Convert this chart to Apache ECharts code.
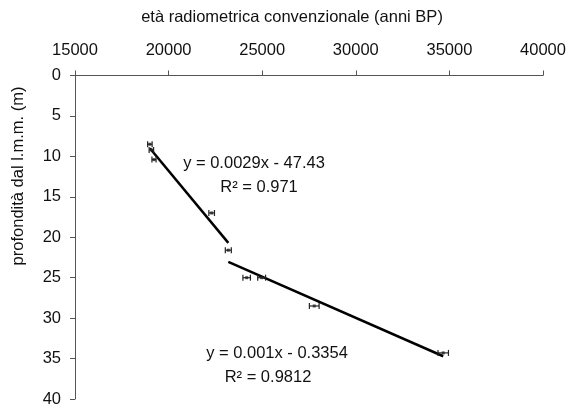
<!DOCTYPE html>
<html>
<head>
<meta charset="utf-8">
<script src="https://cdn.jsdelivr.net/npm/echarts@6/dist/echarts.min.js"></script>
<style>html,body{margin:0;padding:0;background:#fff}#c{width:572px;height:410px}</style>
</head>
<body>
<div id="c"></div>
<script>
// Data
const ages   = [19000, 19080, 19220, 22300, 23190, 24170, 24970, 27780, 34670]; // anni BP
const depths = [8.5,   9.2,   10.4,  17.0,  21.6,  25.0,  25.0,  28.5,  34.3];  // m
const ageErr = [120,   120,   110,   150,   160,   200,   210,   260,   280];
const trendGroups = [[0, 4], [4, 8]]; // index ranges for the two linear fits
const eqLabels = ['y = 0.0029x - 47.43', 'R² = 0.971', 'y = 0.001x - 0.3354', 'R² = 0.9812'];
const xTitle = 'età radiometrica convenzionale (anni BP)';
const yTitle = 'profondità dal l.m.m. (m)';

function fit(a, b) {
  const xs = ages.slice(a, b + 1), ys = depths.slice(a, b + 1);
  const n = xs.length;
  const mx = xs.reduce((s, v) => s + v, 0) / n, my = ys.reduce((s, v) => s + v, 0) / n;
  let sxy = 0, sxx = 0;
  for (let i = 0; i < n; i++) { sxy += (xs[i] - mx) * (ys[i] - my); sxx += (xs[i] - mx) ** 2; }
  const k = sxy / sxx, q = my - k * mx;
  const x0 = Math.min(...xs), x1 = Math.max(...xs);
  return [[x0, k * x0 + q], [x1, k * x1 + q]];
}

const FONT = 'Liberation Sans, Arial, sans-serif';
const chart = echarts.init(document.getElementById('c'));
const pts = ages.map((a, i) => [a, depths[i], ageErr[i]]);

chart.setOption({
  animation: false,
  grid: { left: 75, top: 75.5, right: 29, bottom: 11 },
  xAxis: {
    type: 'value', position: 'top', min: 15000, max: 40000, interval: 5000,
    axisLine: { lineStyle: { color: '#555', width: 1 } },
    axisTick: { show: true, length: 5, lineStyle: { color: '#555' } },
    axisLabel: { color: '#111', fontSize: 16.5, fontFamily: FONT, margin: 17, formatter: v => String(v) },
    splitLine: { show: false }
  },
  yAxis: {
    type: 'value', inverse: true, min: 0, max: 40, interval: 5,
    axisLine: { show: true, lineStyle: { color: '#555', width: 1 } },
    axisTick: { show: true, length: 5, lineStyle: { color: '#555' } },
    axisLabel: { color: '#111', fontSize: 16.5, fontFamily: FONT, margin: 14 },
    splitLine: { show: false }
  },
  graphic: [
    { type: 'text', x: 292, y: 17, style: { text: xTitle, font: '16.5px ' + FONT, fill: '#111', align: 'center', verticalAlign: 'middle' } },
    { type: 'text', x: 18, y: 176, rotation: Math.PI / 2, style: { text: yTitle, font: '16.5px ' + FONT, fill: '#111', align: 'center', verticalAlign: 'middle' } },
    { type: 'text', x: 254, y: 163, style: { text: eqLabels[0], font: '16.5px ' + FONT, fill: '#111', align: 'center', verticalAlign: 'middle' } },
    { type: 'text', x: 259, y: 187, style: { text: eqLabels[1], font: '16.5px ' + FONT, fill: '#111', align: 'center', verticalAlign: 'middle' } },
    { type: 'text', x: 277, y: 353, style: { text: eqLabels[2], font: '16.5px ' + FONT, fill: '#111', align: 'center', verticalAlign: 'middle' } },
    { type: 'text', x: 268, y: 377, style: { text: eqLabels[3], font: '16.5px ' + FONT, fill: '#111', align: 'center', verticalAlign: 'middle' } }
  ],
  series: [
    {
      type: 'line', data: fit(trendGroups[0][0], trendGroups[0][1]), showSymbol: false,
      lineStyle: { color: '#000', width: 2.5 }, z: 3
    },
    {
      type: 'line', data: fit(trendGroups[1][0], trendGroups[1][1]), showSymbol: false,
      lineStyle: { color: '#000', width: 2.5 }, z: 3
    },
    {
      type: 'custom', data: pts, z: 4,
      renderItem: function (params, api) {
        const x = api.value(0), y = api.value(1), e = api.value(2);
        const l = api.coord([x - e, y]), r = api.coord([x + e, y]);
        const h = 3;
        const st = { stroke: '#222', lineWidth: 1.2 };
        return {
          type: 'group', children: [
            { type: 'line', shape: { x1: l[0], y1: l[1], x2: r[0], y2: r[1] }, style: st },
            { type: 'line', shape: { x1: l[0], y1: l[1] - h, x2: l[0], y2: l[1] + h }, style: st },
            { type: 'line', shape: { x1: r[0], y1: r[1] - h, x2: r[0], y2: r[1] + h }, style: st }
          ]
        };
      }
    },
    {
      type: 'scatter', data: pts.map(p => [p[0], p[1]]), symbol: 'rect', symbolSize: 3,
      itemStyle: { color: '#222' }, z: 5
    }
  ]
});
</script>
</body>
</html>
